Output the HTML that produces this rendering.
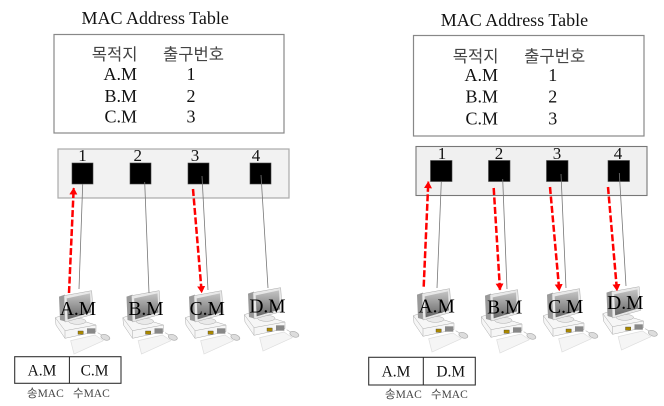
<!DOCTYPE html>
<html><head><meta charset="utf-8"><style>
html,body{margin:0;padding:0;background:#fff;width:664px;height:406px;overflow:hidden}
svg{display:block}
text{font-family:"Liberation Serif","Noto Sans CJK KR",serif;fill:#111}
.t{font-size:18px}.k{font-size:16.6px;fill:#444;font-family:"Liberation Serif","Noto Sans CJK KR",sans-serif}
.n{font-size:17px;text-anchor:middle}.l{font-size:19.5px;text-anchor:middle;fill:#000}
.p{font-size:15.4px;text-anchor:middle}.s{font-size:11.5px;fill:#444}
.w{stroke:#777;stroke-width:.8;fill:none}.r{stroke:#f00;stroke-width:2.5;stroke-dasharray:7 2.5;fill:none}
</style></head><body>
<svg width="664" height="406" viewBox="0 0 664 406" xmlns="http://www.w3.org/2000/svg">
<defs>
<linearGradient id="g" x1="0" y1="0" x2="0" y2="1"><stop offset="0" stop-color="#c4c4c4"/><stop offset="1" stop-color="#666"/></linearGradient>
<marker id="a" markerWidth="8" markerHeight="8" refX="6.500" refY="4" orient="auto" markerUnits="userSpaceOnUse"><path d="M0 0L7 4L0 8z" fill="#f00"/></marker>
<g id="pc" transform="translate(45 280) scale(.3333)">
<path d="M77 182L87 222L175 182L150 165z" fill="#f5f5f5" stroke="#ddd" stroke-width="2"/>
<path d="M31 113L55 105L153 135V155L60 175L33 135z" fill="#f6f6f6" stroke="#aaa" stroke-width="1.500"/>
<path d="M31 113L60 152L153 135M60 152V175" fill="none" stroke="#aaa" stroke-width="1.500"/>
<rect x="126" y="145" width="25" height="16" fill="#888"/>
<rect x="99" y="153" width="16" height="10" fill="#a80" stroke="#333"/>
<path d="M158 158L170 165" stroke="#bbb" stroke-width="2"/>
<ellipse cx="181" cy="172" rx="14" ry="8" fill="#ddd" stroke="#aaa" stroke-width="2" transform="rotate(20 181 172)"/>
<path d="M42 50L60 44V124L45 120z" fill="#999"/>
<ellipse cx="97" cy="124" rx="26" ry="9" fill="#eaeaea" stroke="#aaa" stroke-width="1.500"/>
<path d="M57 47L140 32L145 103L60 126z" fill="#e8e8e8" stroke="#aaa" stroke-width="1.500"/>
<path d="M65 55L135 40L138 97L68 118z" fill="url(#g)"/>
</g>
</defs>
<rect width="664" height="406" fill="#fff"/>

<!-- LEFT -->
<text class="t" x="81.500" y="24">MAC Address Table</text>
<rect x="54" y="34.500" width="230" height="98.500" fill="#fff" stroke="#888" stroke-width="1.200"/>
<text class="k" x="137.500" y="60" text-anchor="end">목적지</text>
<text class="k" x="193.500" y="60" text-anchor="middle">출구번호</text>
<text class="t" x="137" y="80" text-anchor="end">A.M</text>
<text class="t" x="137" y="102" text-anchor="end">B.M</text>
<text class="t" x="137" y="122.700" text-anchor="end">C.M</text>
<text class="t" x="191" y="80" text-anchor="middle">1</text>
<text class="t" x="191" y="102" text-anchor="middle">2</text>
<text class="t" x="191" y="122.700" text-anchor="middle">3</text>

<rect x="58" y="149" width="231" height="49" fill="#f2f2f2" stroke="#aaa" stroke-width="1.200"/>
<rect x="72" y="163" width="21" height="21" fill="#000" stroke="#444" stroke-width=".6"/>
<rect x="130" y="163" width="21" height="21" fill="#000" stroke="#444" stroke-width=".6"/>
<rect x="188" y="163" width="21" height="21" fill="#000" stroke="#444" stroke-width=".6"/>
<rect x="250" y="163" width="21" height="21" fill="#000" stroke="#444" stroke-width=".6"/>
<text class="n" x="82.500" y="161">1</text><text class="n" x="137.700" y="161">2</text>
<text class="n" x="195" y="161">3</text><text class="n" x="256" y="161">4</text>

<use href="#pc"/>
<use href="#pc" x="67.500"/>
<use href="#pc" x="130"/>
<use href="#pc" x="189" y="-3"/>

<path class="w" d="M82.700 184L79 289M144.700 182L149 293M202 176L208 290M261 175L268 288"/>
<path class="r" d="M69 293L73.700 188" marker-end="url(#a)"/>
<path class="r" d="M193 189L201.700 292.700" marker-end="url(#a)"/>

<text class="l" x="78" y="315">A.M</text>
<text class="l" x="146" y="315">B.M</text>
<text class="l" x="207.300" y="315">C.M</text>
<text class="l" x="267.500" y="312.700">D.M</text>

<rect x="14.700" y="356.700" width="106.300" height="26.600" fill="#fff" stroke="#333" stroke-width="1.100"/>
<path d="M69.400 356.700V383.300" stroke="#222" stroke-width="1"/>
<text class="p" x="42" y="375.700">A.M</text><text class="p" x="94.500" y="375.700">C.M</text>
<text class="s" x="27" y="397">송MAC</text><text class="s" x="73" y="397">수MAC</text>

<!-- RIGHT -->
<text class="t" x="440.700" y="26">MAC Address Table</text>
<rect x="413.500" y="35.500" width="230.500" height="100.500" fill="#fff" stroke="#888" stroke-width="1.200"/>
<text class="k" x="498.500" y="62" text-anchor="end">목적지</text>
<text class="k" x="554.700" y="62" text-anchor="middle">출구번호</text>
<text class="t" x="498" y="81" text-anchor="end">A.M</text>
<text class="t" x="498" y="102.700" text-anchor="end">B.M</text>
<text class="t" x="498" y="124.700" text-anchor="end">C.M</text>
<text class="t" x="552.700" y="81" text-anchor="middle">1</text>
<text class="t" x="552.700" y="102.700" text-anchor="middle">2</text>
<text class="t" x="552.700" y="124.700" text-anchor="middle">3</text>

<rect x="416" y="146.500" width="231" height="49" fill="#f0f0f0" stroke="#777" stroke-width="1.100"/>
<rect x="430.500" y="160.500" width="21.500" height="21" fill="#000" stroke="#444" stroke-width=".6"/>
<rect x="488.500" y="160.500" width="21.500" height="21" fill="#000" stroke="#444" stroke-width=".6"/>
<rect x="546.500" y="160.500" width="21.500" height="21" fill="#000" stroke="#444" stroke-width=".6"/>
<rect x="608" y="160.500" width="21.500" height="21" fill="#000" stroke="#444" stroke-width=".6"/>
<text class="n" x="442" y="159">1</text><text class="n" x="499" y="159">2</text>
<text class="n" x="557" y="159">3</text><text class="n" x="618" y="159">4</text>

<use href="#pc" x="358" y="-2"/>
<use href="#pc" x="426" y="-1"/>
<use href="#pc" x="488" y="-2"/>
<use href="#pc" x="547.500" y="-4"/>

<path class="w" d="M441.300 181.600L437 288M502.700 179L507 289M561 174L566 288M619.300 173L626 286"/>
<path class="r" d="M423.700 286.700L428.300 181.700" marker-end="url(#a)"/>
<path class="r" d="M493.700 188L500 290" marker-end="url(#a)"/>
<path class="r" d="M550 187L559.300 290.700" marker-end="url(#a)"/>
<path class="r" d="M608 187L617 290.700" marker-end="url(#a)"/>

<text class="l" x="436.700" y="312.300">A.M</text>
<text class="l" x="504.700" y="313.300">B.M</text>
<text class="l" x="565.700" y="313">C.M</text>
<text class="l" x="625.300" y="309">D.M</text>

<rect x="368.700" y="357.300" width="106.600" height="27.700" fill="#fff" stroke="#333" stroke-width="1.100"/>
<path d="M423.300 357.300V385" stroke="#222" stroke-width="1"/>
<text class="p" x="396" y="376.700">A.M</text><text class="p" x="450.700" y="376.700">D.M</text>
<text class="s" x="385" y="398">송MAC</text><text class="s" x="431" y="398">수MAC</text>
</svg>
</body></html>
